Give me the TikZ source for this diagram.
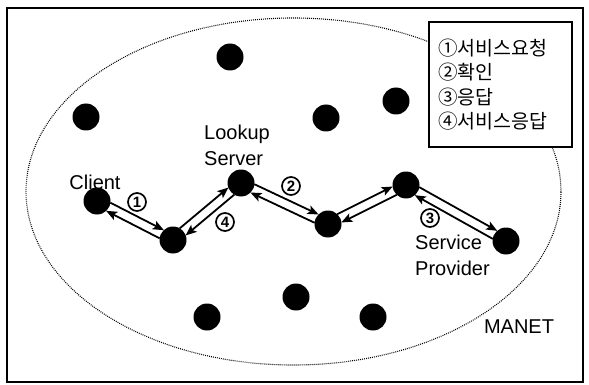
\documentclass[tikz,border=0pt]{standalone}
\usepackage{fontspec}
\setmainfont{Liberation Sans}
\newfontfamily\krfont{Noto Sans CJK KR}
\usetikzlibrary{calc,arrows.meta}

% two parallel one-way links between two hosts, each offset to the left of its own direction
\newcommand\twoway[2]{%
  \draw[flow] ($(#1)!12.6pt!(#2)!4.6pt!90:(#2)$) -- ($(#2)!12.6pt!(#1)!4.6pt!-90:(#1)$);
  \draw[flow] ($(#2)!12.6pt!(#1)!4.6pt!90:(#1)$) -- ($(#1)!12.6pt!(#2)!4.6pt!-90:(#2)$);}

\begin{document}
\begin{tikzpicture}[x=1pt,y=-1pt,
  host/.style={circle, fill=black, inner sep=0pt, minimum size=27pt},
  flow/.style={line width=1.8pt, -{Stealth[length=11pt,width=9pt,inset=2.5pt]}},
  lbl/.style={font=\fontsize{20}{26}\selectfont, inner sep=0pt},
  num/.style={circle, draw, line width=1.7pt, inner sep=0pt, minimum size=18pt,
              font=\bfseries\fontsize{15}{15}\selectfont},
  netline/.style={line width=1.1pt, dash pattern=on 0.9pt off 1.1pt}]
\useasboundingbox (0,0) rectangle (589,385);

% outer frame
\draw[line width=1.4pt] (7,8) rectangle (583,382);

% extent of the ad hoc network
\draw[netline] (293.5,191.5) ellipse [x radius=267.5pt, y radius=173.5pt];

% idle hosts
\node[host] (h1) at (230,57) {};
\node[host] (h2) at (86,117) {};
\node[host] (h3) at (326,118) {};
\node[host] (h4) at (396,101) {};
\node[host] (h5) at (207,317) {};
\node[host] (h6) at (296,297) {};
\node[host] (h7) at (373,317) {};

% hosts on the request path
\node[host] (cl) at (97,201) {};
\node[host] (r1) at (173,240) {};
\node[host] (ls) at (241,183) {};
\node[host] (r2) at (328,224) {};
\node[host] (r3) at (406,185) {};
\node[host] (sp) at (506,241) {};

\twoway{cl}{r1}
\twoway{r1}{ls}
\twoway{ls}{r2}
\twoway{r2}{r3}
\twoway{r3}{sp}

% labels
\node[lbl] (tcl) at (95,182) {Client};
\node[lbl, align=left, anchor=west] (tls) at (204,145.5) {Lookup\\Server};
\node[lbl, align=left, anchor=west] (tsp) at (415,255.5) {Service\\Provider};
\node[lbl] (tnet) at (519,327) {MANET};

% step numbers
\node[num] (s1) at (137,202) {1};
\node[num] (s2) at (291,186) {2};
\node[num] (s3) at (430,218) {3};
\node[num] (s4) at (225,222) {4};

% legend
\node[draw, line width=1.4pt, fill=white, align=left, text width=125pt,
      inner xsep=9pt, inner ysep=0pt, minimum height=125pt,
      font=\krfont\fontsize{19.5}{24.3}\selectfont] (legend) at (500.5,84.5)
  {①서비스요청\\②확인\\③응답\\④서비스응답};
\end{tikzpicture}
\end{document}
